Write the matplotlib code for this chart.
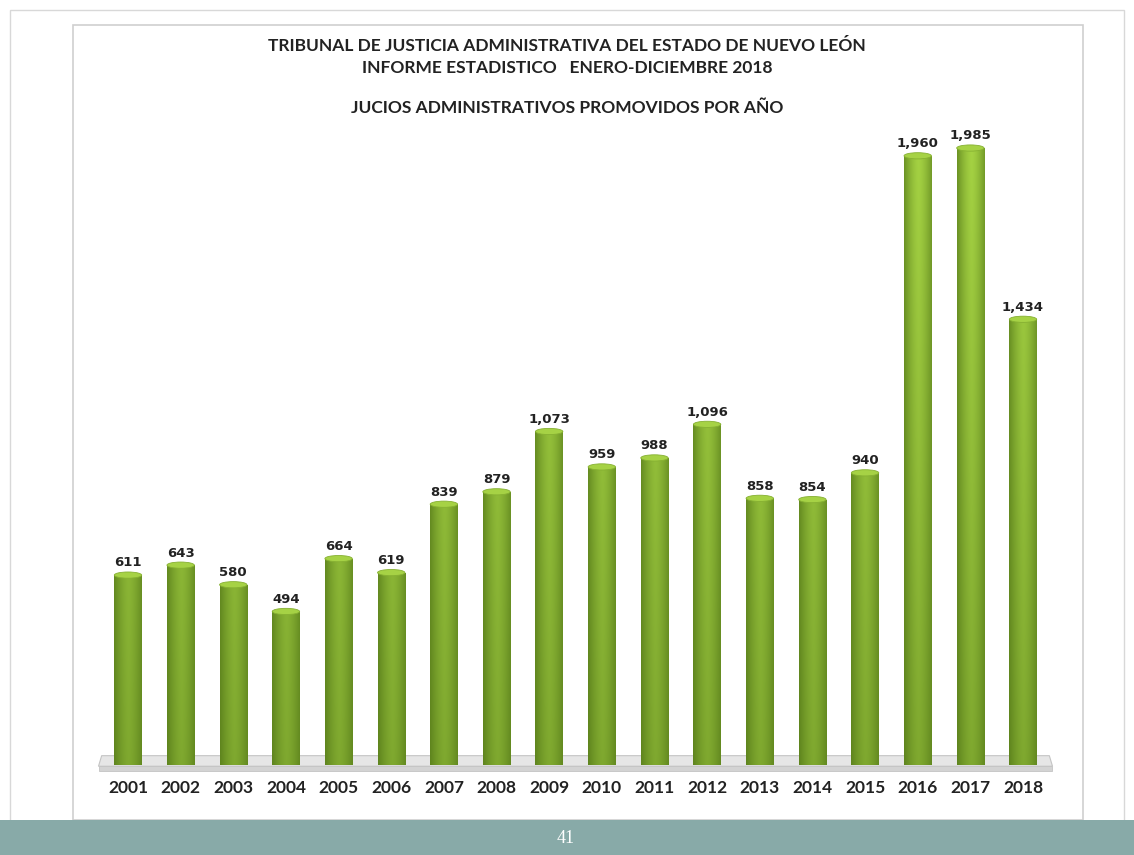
import numpy as np
import matplotlib
matplotlib.use("Agg")
import matplotlib.pyplot as plt
from matplotlib.patches import Rectangle, Ellipse, Polygon

# datos
anios = ["2001", "2002", "2003", "2004", "2005", "2006", "2007", "2008", "2009",
         "2010", "2011", "2012", "2013", "2014", "2015", "2016", "2017", "2018"]
juicios = [611, 643, 580, 494, 664, 619, 839, 879, 1073,
           959, 988, 1096, 858, 854, 940, 1960, 1985, 1434]

titulo = ("TRIBUNAL DE JUSTICIA ADMINISTRATIVA DEL ESTADO DE NUEVO LEÓN\n"
          "INFORME ESTADISTICO   ENERO-DICIEMBRE 2018")
subtitulo = "JUCIOS ADMINISTRATIVOS PROMOVIDOS POR AÑO"
pagina = "41"

W, H = 1134, 855
fig = plt.figure(figsize=(W / 100, H / 100), dpi=100)
fig.patch.set_facecolor("white")

# marco de la diapositiva y pie de pagina
fig.add_artist(Rectangle((10 / W, 0), 1114 / W, 1 - 10 / H, transform=fig.transFigure,
                         fill=False, ec="#d8d8d8", lw=1, zorder=-2))
fig.add_artist(Rectangle((73 / W, (H - 820) / H), 1010 / W, 795 / H, transform=fig.transFigure,
                         fc="white", ec="#cfcfcf", lw=1.2, zorder=-1))
fig.add_artist(Rectangle((0, 0), 1, 35 / H, transform=fig.transFigure,
                         fc="#88aaa8", ec="none", zorder=-1))
fig.text(566 / W, 17 / H, pagina, color="white", ha="center", va="center",
         fontsize=13, family="Liberation Serif")

fig.text(0.5, 1 - 57 / H, titulo, ha="center", va="center", fontsize=12.5,
         fontweight="bold", family="Lato", linespacing=1.45, color="#222222")
fig.text(0.5, 1 - 108 / H, subtitulo, ha="center", va="center", fontsize=12.5,
         fontweight="bold", family="Lato", color="#222222")

ymax = 2200
ax = fig.add_axes([96.4 / W, 90 / H, 958.2 / W, 683.8 / H])
ax.set_zorder(2)
ax.patch.set_visible(False)
ax.set_xlim(-0.6, 17.6)
ax.set_ylim(0, ymax)
ax.axis("off")

x = np.arange(len(anios))
ancho = 0.52

# piso gris
piso = Polygon([(-0.56, -4), (17.56, -4), (17.5, 30), (-0.5, 30)], closed=True,
               fc="#e6e6e6", ec="#c4c4c4", lw=0.8, zorder=1, clip_on=False)
ax.add_patch(piso)
ax.add_patch(Rectangle((-0.56, -20), 18.12, 16, fc="#d3d3d3", ec="#c4c4c4", lw=0.6,
                       zorder=1, clip_on=False))

# degradado: sombra de cilindro en x, mas oscuro hacia abajo en y
t = np.linspace(-1, 1, 64)
brillo_x = 1 - 0.6 * np.abs(t - 0.05) ** 1.5
s = np.linspace(0, 1, 128)[:, None]  # 0 abajo, 1 arriba
verde_claro = np.array([0.66, 0.84, 0.27])
verde_osc = np.array([0.30, 0.44, 0.08])
mezcla = (0.55 + 0.45 * s) * brillo_x[None, :]
grad = verde_osc + (verde_claro - verde_osc) * np.clip(mezcla, 0, 1)[:, :, None]

barras = ax.bar(x, juicios, width=ancho, color="#8cbf35", zorder=2)
for xi, v, b in zip(x, juicios, barras):
    im = ax.imshow(grad, extent=(xi - ancho / 2, xi + ancho / 2, 0, ymax), aspect="auto",
                   origin="lower", zorder=3, interpolation="bilinear")
    im.set_clip_path(b)
    ax.add_patch(Ellipse((xi, v), ancho, 20, fc="#a6d245", ec="#86b032", lw=0.6, zorder=4))
    ax.text(xi, v + 18, f"{v:,}", ha="center", va="bottom", fontsize=9.5,
            fontweight="bold", family="DejaVu Sans", color="#222222", zorder=5)
    ax.text(xi, -74, anios[xi], ha="center", va="center", fontsize=12.5,
            fontweight="bold", family="Lato", color="#222222", clip_on=False)

ax.set_xlim(-0.6, 17.6)
ax.set_ylim(0, ymax)

fig.savefig("out.png", dpi=100)
